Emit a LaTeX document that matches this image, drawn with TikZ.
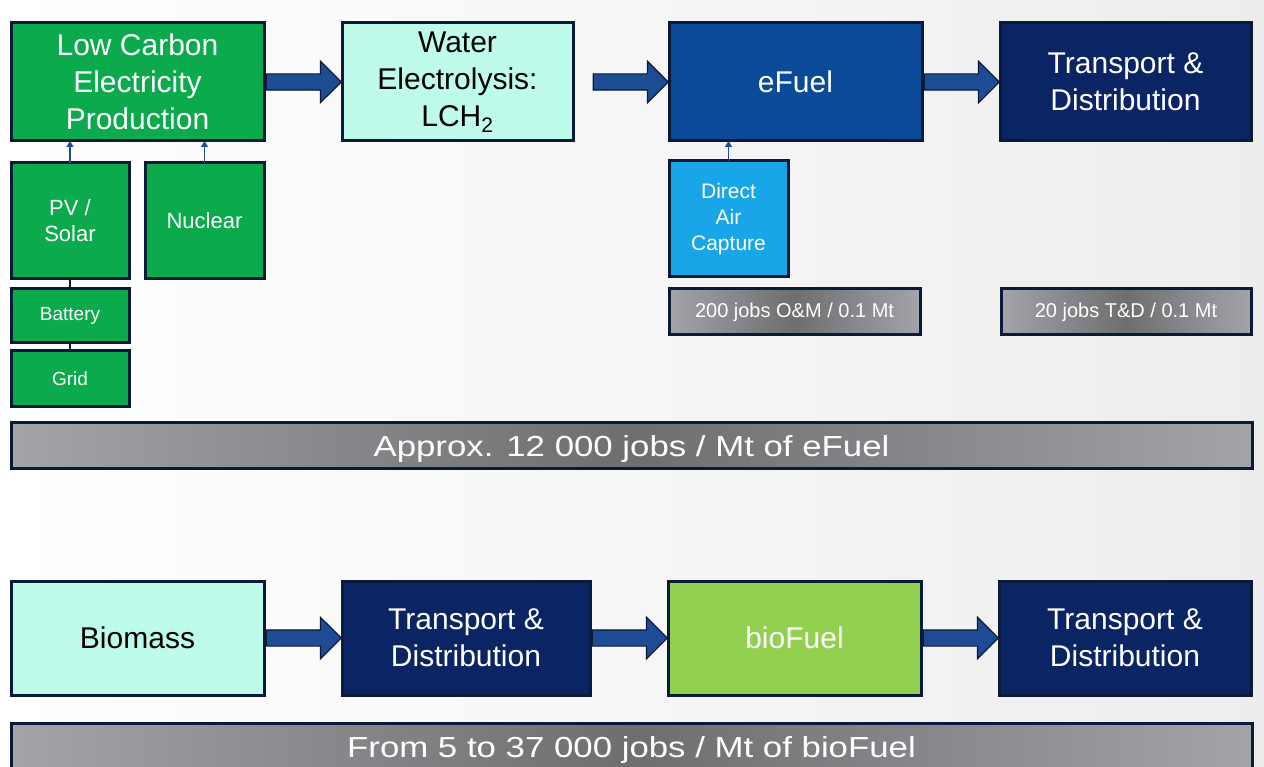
\documentclass[tikz,border=0pt]{standalone}
\usepackage{fontspec}
\setmainfont{Liberation Sans}
\newfontfamily\barfont{Liberation Sans}[FakeStretch=1.2]
\usetikzlibrary{arrows.meta,positioning,shapes.arrows}
\definecolor{edge}{HTML}{0A1A38}
\definecolor{lcgreen}{HTML}{0BAA4C}
\definecolor{aqua}{HTML}{BFFBEB}
\definecolor{fuelblue}{HTML}{0B4A98}
\definecolor{navy}{HTML}{0B2464}
\definecolor{dacblue}{HTML}{18A6E8}
\definecolor{biogreen}{HTML}{92D050}
\definecolor{arrblue}{HTML}{1D4C95}
\definecolor{bardark}{HTML}{6E6E70}
\definecolor{barlight}{HTML}{A2A4A8}

\begin{document}
\begin{tikzpicture}[x=1pt,y=1pt,node distance=78pt and 78pt,
 box/.style={draw=edge,line width=3pt,outer sep=0pt,align=center,inner sep=0pt,minimum width=253pt,minimum height=118pt,font=\fontsize{30}{37}\selectfont},
 srcbox/.style={box,fill=lcgreen,text=white,minimum width=118pt,minimum height=116pt,font=\fontsize{22}{26}\selectfont},
 jobs/.style={draw=edge,line width=3pt,outer sep=0pt,left color=barlight,right color=barlight,middle color=bardark,text=white,inner sep=0pt,minimum height=46pt},
 total/.style={jobs,minimum width=1241pt,text height=23pt,text depth=0pt,font=\barfont\fontsize{29}{33}\selectfont},
 bigarr/.style={single arrow,draw=edge,fill=arrblue,line width=1.2pt,inner sep=0pt,single arrow head extend=12.5pt,minimum height=75pt,anchor=tip,pos=1},
 feed/.style={-{Triangle[length=6pt,width=7pt]},draw=arrblue,line width=1.2pt},
 link/.style={draw=edge,line width=1.2pt}]
\useasboundingbox (0,0) rectangle (1264,-767);
\shade[left color=white,right color=gray!14] (0,0) rectangle (1264,-767);
% eFuel chain
\node[box,fill=lcgreen,text=white,anchor=north west] (lowc) at (11,-23) {Low Carbon\\Electricity\\Production};
\node[box,fill=aqua,minimum width=231pt,right=of lowc] (water) {Water\\Electrolysis:\\LCH\textsubscript{2}};
\node[box,fill=fuelblue,text=white,right=96pt of water] (efuel) {eFuel};
\node[box,fill=navy,text=white,minimum width=251pt,right=of efuel] (tnd) {Transport \&\\Distribution};
\node[srcbox,below right=22pt and 0pt of lowc.south west] (pv) {PV /\\Solar};
\node[srcbox,minimum width=119pt,right=16pt of pv] (nuclear) {Nuclear};
\node[srcbox,minimum height=54pt,font=\fontsize{19}{23}\selectfont,below=10pt of pv] (battery) {Battery};
\node[srcbox,minimum height=55pt,font=\fontsize{19}{23}\selectfont,below=8pt of battery] (grid) {Grid};
\node[box,fill=dacblue,text=white,minimum width=119pt,minimum height=116pt,font=\fontsize{21}{26}\selectfont,below right=20pt and 0pt of efuel.south west] (dac) {Direct\\Air\\Capture};
\node[jobs,minimum width=251pt,font=\fontsize{20}{24}\selectfont,below right=12pt and 0pt of dac.south west] (om) {200 jobs O\&M / 0.1 Mt};
\node[jobs,minimum width=250pt,font=\fontsize{20}{24}\selectfont,right=81pt of om] (tdjobs) {20 jobs T\&D / 0.1 Mt};
\node[total,below right=16pt and 0pt of grid.south west] (ejobs) {Approx. 12 000 jobs / Mt of eFuel};
% bioFuel chain
\node[box,fill=aqua,minimum height=114pt,below right=113pt and 0pt of ejobs.south west] (biomass) {Biomass};
\node[box,fill=navy,text=white,minimum width=248pt,minimum height=114pt,right=of biomass] (tnd2) {Transport \&\\Distribution};
\node[box,fill=biogreen,text=white,minimum height=114pt,right=of tnd2] (biofuel) {bioFuel};
\node[box,fill=navy,text=white,minimum width=252pt,minimum height=114pt,right=of biofuel] (tnd3) {Transport \&\\Distribution};
\node[total,below right=28pt and 0pt of biomass.south west] (biojobs) {From 5 to 37 000 jobs / Mt of bioFuel};
% connectors
\path (lowc) -- node[bigarr]{\rule{0pt}{15pt}} (water);
\path (water) -- node[bigarr]{\rule{0pt}{15pt}} (efuel);
\path (efuel) -- node[bigarr]{\rule{0pt}{15pt}} (tnd);
\path (biomass) -- node[bigarr]{\rule{0pt}{15pt}} (tnd2);
\path (tnd2) -- node[bigarr]{\rule{0pt}{15pt}} (biofuel);
\path (biofuel) -- node[bigarr]{\rule{0pt}{15pt}} (tnd3);
\draw[feed] (pv) -- (pv |- lowc.south);
\draw[feed] (nuclear) -- (nuclear |- lowc.south);
\draw[feed] (dac) -- (dac |- efuel.south);
\draw[link] (pv) -- (battery);
\draw[link] (battery) -- (grid);
\end{tikzpicture}
\end{document}
